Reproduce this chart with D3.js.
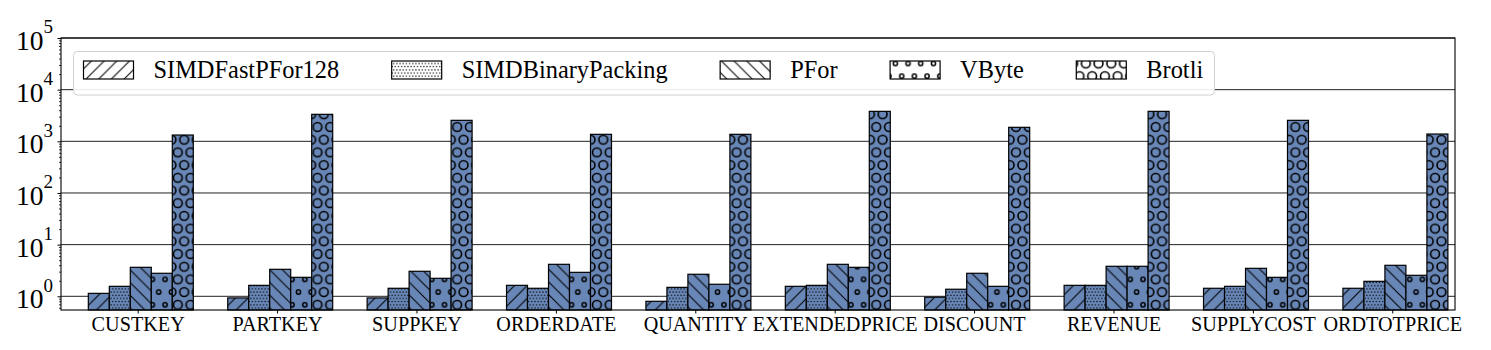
<!DOCTYPE html>
<html><head><meta charset="utf-8">
<script src="https://cdn.jsdelivr.net/npm/d3@7"></script>
<style>
body{margin:0;background:#fff}
svg{display:block}
text{font-family:"Liberation Serif","Times New Roman",serif}
</style>
</head><body>
<svg id="c" width="1491" height="350"></svg>
<script>
const categories = ["CUSTKEY","PARTKEY","SUPPKEY","ORDERDATE","QUANTITY","EXTENDEDPRICE","DISCOUNT","REVENUE","SUPPLYCOST","ORDTOTPRICE"];
const seriesNames = ["SIMDFastPFor128","SIMDBinaryPacking","PFor","VByte","Brotli"];
const simdFastPFor128 = [1.14,0.93,0.93,1.63,0.80,1.56,0.96,1.63,1.43,1.43];
const simdBinaryPacking = [1.56,1.63,1.43,1.43,1.49,1.63,1.37,1.63,1.56,1.95];
const pfor = [3.64,3.33,3.05,4.16,2.67,4.16,2.79,3.81,3.48,3.98];
const vbyte = [2.79,2.33,2.23,2.91,1.71,3.64,1.56,3.81,2.33,2.55];
const brotli = [1324,3330,2548,1366,1366,3805,1866,3805,2548,1384];
const yTickExponents = [0,1,2,3,4,5];

const FONT = "Liberation Serif, Times New Roman, serif";
const seriesValues = [simdFastPFor128, simdBinaryPacking, pfor, vbyte, brotli];
const hatchIds = ["h-fwd","h-dots","h-back","h-small","h-large"];
const barColor = "#6886b6";

const svg = d3.select("#c");
const L = 61, R = 1455, T = 38, B = 310;
const x = d3.scaleLinear().domain([-0.55, 9.45]).range([L, R]);
const y = d3.scaleLog().domain([0.543, 1e5]).range([B, T]);
const barW = 0.1506, groupStart = -0.354;

// hatch patterns
const defs = svg.append("defs");
const P = 12.7;
function linePattern(id, dir){
  const p = defs.append("pattern").attr("id", id).attr("patternUnits","userSpaceOnUse")
    .attr("width", P).attr("height", P);
  const segs = dir > 0
    ? [[0,P,P,0],[-2,2,2,-2],[P-2,P+2,P+2,P-2]]
    : [[0,0,P,P],[-2,P-2,2,P+2],[P-2,-2,P+2,2]];
  segs.forEach(s => p.append("line").attr("x1",s[0]).attr("y1",s[1]).attr("x2",s[2]).attr("y2",s[3])
    .attr("stroke","#000").attr("stroke-width",1));
}
linePattern("h-fwd", 1);
linePattern("h-back", -1);
function circlePattern(id, period, r, filled, sw){
  const p = defs.append("pattern").attr("id", id).attr("patternUnits","userSpaceOnUse")
    .attr("width", period).attr("height", period*2);
  const pts = [[0,0],[period,0],[period/2,period],[0,period*2],[period,period*2]];
  pts.forEach(c => {
    const e = p.append("circle").attr("cx",c[0]).attr("cy",c[1]).attr("r",r);
    if (filled) e.attr("fill","#000");
    else e.attr("fill","none").attr("stroke","#000").attr("stroke-width",sw);
  });
}
circlePattern("h-dots", 3.175, 0.75, true, 0);
circlePattern("h-small", P, 2.1, false, 1.5);
circlePattern("h-large", P, 4.4, false, 1.6);

// grid
const gridG = svg.append("g");
yTickExponents.forEach(e => {
  gridG.append("line").attr("x1", L).attr("x2", R).attr("y1", y(Math.pow(10,e))).attr("y2", y(Math.pow(10,e)))
    .attr("stroke","#222").attr("stroke-width",1);
});

// bars
const barsG = svg.append("g");
seriesValues.forEach((vals, j) => {
  const g = barsG.append("g");
  vals.forEach((v, i) => {
    const x0 = x(i + groupStart + j*barW), x1 = x(i + groupStart + (j+1)*barW);
    const yt = y(v);
    g.append("rect").attr("x", x0).attr("y", yt).attr("width", x1-x0).attr("height", B-yt).attr("fill", barColor);
    g.append("rect").attr("x", x0).attr("y", yt).attr("width", x1-x0).attr("height", B-yt)
      .attr("fill", `url(#${hatchIds[j]})`).attr("stroke","#000").attr("stroke-width",1.2);
  });
});

// legend
const lg = svg.append("g");
lg.append("rect").attr("x",73.5).attr("y",51.5).attr("width",1141).attr("height",43.5).attr("rx",4)
  .attr("fill","#fff").attr("fill-opacity",0.9).attr("stroke","#d0d0d0").attr("stroke-width",1);
let lx = 83.5;
seriesNames.forEach((name, j) => {
  lg.append("rect").attr("x", lx).attr("y", 61).attr("width", 50).attr("height", 18).attr("fill","#fff");
  lg.append("rect").attr("x", lx).attr("y", 61).attr("width", 50).attr("height", 18)
    .attr("fill", `url(#${hatchIds[j]})`).attr("stroke","#000").attr("stroke-width",1.2);
  const t = lg.append("text").attr("x", lx+70).attr("y", 78).attr("font-size", 24.4)
    .attr("font-family", FONT).attr("fill","#000").text(name);
  lx = lx + 70 + t.node().getComputedTextLength() + 52.5;
});

// frame
svg.append("rect").attr("x",L).attr("y",T).attr("width",R-L).attr("height",B-T)
  .attr("fill","none").attr("stroke","#000").attr("stroke-width",1.1);

// x axis
const xa = svg.append("g").attr("transform", `translate(0,${B})`)
  .call(d3.axisBottom(x).tickValues(d3.range(categories.length)).tickFormat(i => categories[i]).tickSizeInner(3.5).tickSizeOuter(0));
xa.attr("font-family", FONT);
xa.select(".domain").remove();
xa.selectAll("line").attr("stroke","#000");
xa.selectAll("text").attr("font-size",20.2).attr("font-family", FONT).attr("fill","#000");

// y axis
const majors = yTickExponents.map(e => Math.pow(10,e));
const ya = svg.append("g").attr("transform", `translate(${L},0)`)
  .call(d3.axisLeft(y).tickValues(majors).tickSize(3.5).tickFormat(""));
ya.select(".domain").remove();
ya.selectAll("line").attr("stroke","#000");
const minors = [];
for (let e = -1; e < 5; e++) for (let k = 2; k <= 9; k++) { const v = k*Math.pow(10,e); if (v >= 0.543 && v < 1e5) minors.push(v); }
const ym = svg.append("g").attr("transform", `translate(${L},0)`)
  .call(d3.axisLeft(y).tickValues(minors).tickSize(2).tickFormat(""));
ym.select(".domain").remove();
ym.selectAll("line").attr("stroke","#000").attr("stroke-width",0.8);

yTickExponents.forEach(e => {
  const yy = y(Math.pow(10,e));
  const t = svg.append("text").attr("x", 53).attr("y", yy + 12).attr("text-anchor","end")
    .attr("font-family", FONT).attr("fill","#000");
  t.append("tspan").attr("font-size", 27.5).text("10");
  t.append("tspan").attr("font-size", 19).attr("dy", -16.7).text(String(e));
});
</script>
</body></html>
